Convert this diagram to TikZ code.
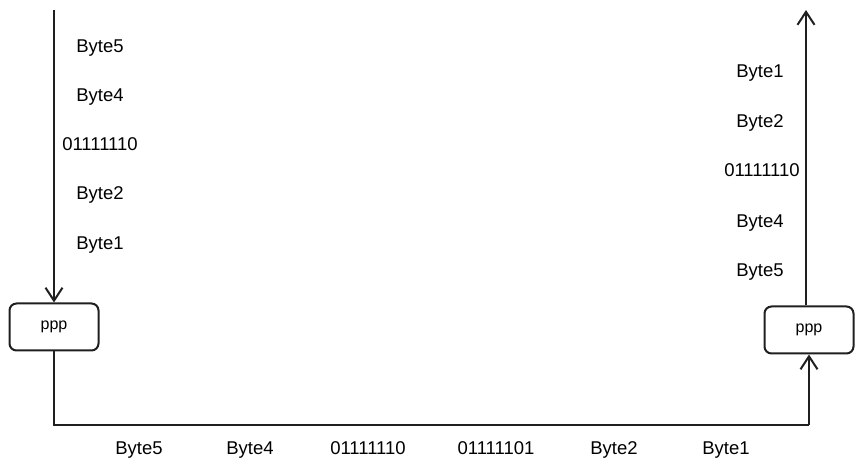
\documentclass[tikz,border=0pt]{standalone}
\usepackage{fontspec}
\setmainfont{Liberation Sans}
\usepackage{tikz}
\usetikzlibrary{arrows.meta, positioning, calc}

\begin{document}
\begin{tikzpicture}[
    x=1pt, y=-1pt,
    ink/.style={line width=2pt, draw=black!88},
    pppbox/.style={rectangle, ink, rounded corners=7pt, minimum width=89pt, minimum height=47pt, font=\fontsize{16}{16}\selectfont},
    byte/.style={anchor=base, inner sep=0pt, font=\fontsize{18.5}{18.5}\selectfont},
    arrow/.style={ink, -{Straight Barb[length=13pt, width=17pt, line width=2pt]}},
]
    \useasboundingbox (0,0) rectangle (863,470);

    % sender and receiver
    \node[pppbox] (pppL) at (54,327) {ppp};
    \node[pppbox] (pppR) at (809,330) {ppp};

    % bytes going in
    \node[byte] (l5) at (100,53) {Byte5};
    \node[byte] (l4) at (100,102) {Byte4};
    \node[byte] (lf) at (100,151) {01111110};
    \node[byte] (l2) at (100,200) {Byte2};
    \node[byte] (l1) at (100,250) {Byte1};

    % bytes coming out
    \node[byte] (r1) at (760,78) {Byte1};
    \node[byte] (r2) at (760,128) {Byte2};
    \node[byte] (rf) at (762,177) {01111110};
    \node[byte] (r4) at (760,228) {Byte4};
    \node[byte] (r5) at (760,277) {Byte5};

    % bytes on the line
    \node[byte] (b5) at (139,455) {Byte5};
    \node[byte] (b4) at (250,455) {Byte4};
    \node[byte] (bf) at (368,455) {01111110};
    \node[byte] (be) at (496,455) {01111101};
    \node[byte] (b2) at (614,455) {Byte2};
    \node[byte] (b1) at (726,455) {Byte1};

    \coordinate (inL) at (54,10);
    \coordinate (outR) at (806,10);
    \coordinate (lineL) at (54,425);
    \coordinate (lineR) at (809,425);

    \draw[arrow] (inL) -- (pppL.north);
    \draw[ink] (pppL.south) -- (lineL) -- (lineR);
    \draw[arrow] (lineR) -- (pppR.south);
    \draw[arrow] (pppR.north -| outR) -- (outR);
\end{tikzpicture}
\end{document}
